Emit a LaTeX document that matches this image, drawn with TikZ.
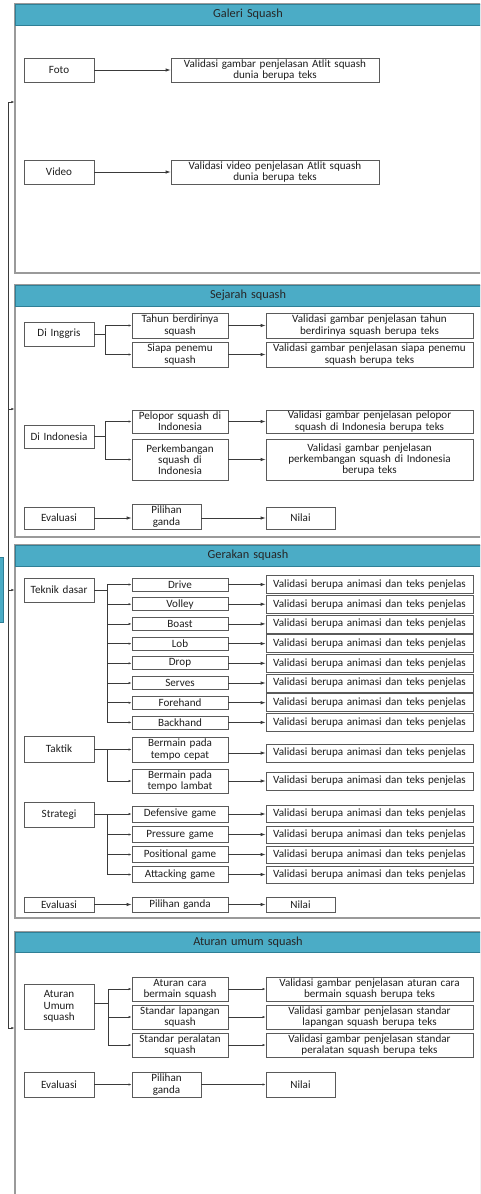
\documentclass[tikz,border=0pt]{standalone}
\usepackage{fontspec}
\setmainfont{Carlito}
\usetikzlibrary{arrows.meta}
\definecolor{headfill}{HTML}{4BACC6}
\definecolor{headdraw}{HTML}{2F7F96}
\definecolor{panelline}{HTML}{9A9A9A}
\definecolor{boxline}{HTML}{5A5A5A}
\definecolor{txt}{HTML}{1E1E1E}
\definecolor{lin}{HTML}{3A3A3A}
\tikzset{
  box/.style={draw=boxline,line width=0.7pt,fill=white,align=center,inner xsep=1pt,inner ysep=0pt,
    font=\fontsize{11.1}{11.3}\selectfont,text=txt},
  panel/.style={draw=panelline,line width=1.1pt,fill=white,inner sep=0pt},
  header/.style={draw=headdraw,line width=0.9pt,fill=headfill,inner sep=0pt,align=center,
    font=\fontsize{12.3}{13}\selectfont,text=black!85},
  side/.style={draw=headdraw,line width=0.6pt,fill=headfill,inner sep=0pt},
  arr/.style={draw=lin,line width=0.7pt,-{Latex[length=5pt,width=3.4pt]}},
  sarr/.style={draw=lin,line width=0.55pt,-{Latex[length=3pt,width=2.2pt]}},
  ln/.style={draw=lin,line width=0.6pt}
}
% \bx{style}{name}{x1}{y1}{x2}{y2}{text}
\newcommand{\bx}[7]{%
  \pgfmathsetmacro{\myW}{#5-#3}\pgfmathsetmacro{\myH}{#6-#4}%
  \pgfmathsetmacro{\myTW}{#5-#3-2}%
  \pgfmathsetmacro{\myCX}{(#3+#5)/2}\pgfmathsetmacro{\myCY}{(#4+#6)/2}%
  \node[#1,minimum width=\myW pt,minimum height=\myH pt,text width=\myTW pt] (#2) at (\myCX,\myCY) {#7};}
\newcommand{\pn}[6]{%
  \pgfmathsetmacro{\myW}{#5-#3}\pgfmathsetmacro{\myH}{#6-#4}%
  \pgfmathsetmacro{\myCX}{(#3+#5)/2}\pgfmathsetmacro{\myCY}{(#4+#6)/2}%
  \node[#1,minimum width=\myW pt,minimum height=\myH pt] (#2) at (\myCX,\myCY) {};}
\begin{document}
\begin{tikzpicture}[x=1pt,y=-1pt]
\clip (0,0) rectangle (480,1194);
\fill[white] (0,0) rectangle (480,1194);
% panels
\pn{panel}{gal}{15}{4}{481}{273}
\bx{header}{galh}{15}{4}{481}{25}{Galeri Squash}
\pn{panel}{sej}{15}{285}{481}{537}
\bx{header}{sejh}{15}{285}{481}{306}{Sejarah squash}
\pn{panel}{ger}{15}{545}{481}{918}
\bx{header}{gerh}{15}{545}{481}{566}{Gerakan squash}
\pn{panel}{atr}{15}{932}{481}{1210}
\bx{header}{atrh}{15}{932}{481}{952}{Aturan umum squash}
\pn{side}{sidebar}{-4}{557}{3}{622}
% left bracket
\coordinate (b1) at (8,102);
\coordinate (b2) at (8,409);
\coordinate (b3) at (8,590);
\coordinate (b4) at (8,1028);
\draw[ln] (b1) -- (b4);
\draw[sarr] (b1) -- (gal.west |- b1);
\draw[sarr] (b2) -- (sej.west |- b2);
\draw[sarr] (b3) -- (ger.west |- b3);
\draw[sarr] (b4) -- (atr.west |- b4);
% ---------------- Galeri
\bx{box}{foto}{24}{58}{94}{82}{Foto}
\bx{box}{vfoto}{171}{58}{379}{82}{Validasi gambar penjelasan Atlit squash\\dunia berupa teks}
\bx{box}{video}{24}{160}{94}{184}{Video}
\bx{box}{vvideo}{171}{160}{379}{184}{Validasi video penjelasan Atlit squash\\dunia berupa teks}
\draw[arr] (foto) -- (vfoto);
\draw[arr] (video) -- (vvideo);
% ---------------- Sejarah
\bx{box}{ing}{24}{322}{94}{346}{Di Inggris}
\bx{box}{tahun}{132}{313}{228}{338}{Tahun berdirinya\\squash}
\bx{box}{siapa}{132}{342}{228}{367}{Siapa penemu\\squash}
\bx{box}{vtahun}{266}{313}{473}{338}{Validasi gambar penjelasan tahun\\berdirinya squash berupa teks}
\bx{box}{vsiapa}{266}{342}{473}{367}{Validasi gambar penjelasan siapa penemu\\squash berupa teks}
\draw[sarr] (ing.east) -- ++(11,0) |- (tahun.west);
\draw[sarr] (ing.east) -- ++(11,0) |- (siapa.west);
\draw[arr] (tahun) -- (vtahun);
\draw[arr] (siapa) -- (vsiapa);
\bx{box}{indo}{24}{425}{94}{448}{Di Indonesia}
\bx{box}{pelopor}{132}{410}{228}{433}{Pelopor squash di\\Indonesia}
\bx{box}{perkem}{132}{439}{228}{480}{Perkembangan\\squash di\\Indonesia}
\bx{box}{vpelopor}{266}{410}{473}{433}{Validasi gambar penjelasan pelopor\\squash di Indonesia berupa teks}
\bx{box}{vperkem}{266}{439}{473}{480}{Validasi gambar penjelasan\\perkembangan squash di Indonesia\\berupa teks}
\draw[sarr] (indo.east) -- ++(11,0) |- (pelopor.west);
\draw[sarr] (indo.east) -- ++(11,0) |- (perkem.west);
\draw[arr] (pelopor) -- (vpelopor);
\draw[arr] (perkem) -- (vperkem);
\bx{box}{evala}{24}{507}{94}{529}{Evaluasi}
\bx{box}{pga}{132}{504}{201}{529}{Pilihan\\ganda}
\bx{box}{nilaia}{266}{507}{335}{529}{Nilai}
\draw[arr] (evala.east) -- (pga.west |- evala.east);
\draw[arr] (pga.east |- nilaia.west) -- (nilaia.west);
% ---------------- Gerakan
\bx{box}{tek}{24}{578}{94}{602}{Teknik dasar}
\foreach \nm/\lab/\c in {drive/Drive/584.5, volley/Volley/604.2, boast/Boast/623.9, lob/Lob/643.6,
  drop/Drop/663.3, serves/Serves/683, fore/Forehand/702.7, back/Backhand/722.4}{
  \pgfmathsetmacro{\ya}{\c-6.5}\pgfmathsetmacro{\yb}{\c+6.5}
  \pgfmathsetmacro{\yc}{\c-9}\pgfmathsetmacro{\yd}{\c+9}
  \bx{box}{\nm}{132}{\ya}{228}{\yb}{\lab}
  \bx{box}{v\nm}{266}{\yc}{473}{\yd}{Validasi berupa animasi dan teks penjelas}
  \draw[sarr] (tek.east) -- ++(13,0) |- (\nm.west);
  \draw[arr] (\nm) -- (v\nm);
}
\bx{box}{tak}{24}{736}{94}{762}{Taktik}
\bx{box}{cepat}{132}{737}{228}{762}{Bermain pada\\tempo cepat}
\bx{box}{lambat}{132}{769}{228}{793}{Bermain pada\\tempo lambat}
\bx{box}{vcepat}{266}{744}{473}{762}{Validasi berupa animasi dan teks penjelas}
\bx{box}{vlambat}{266}{772}{473}{790}{Validasi berupa animasi dan teks penjelas}
\draw[sarr] (tak.east) -- ++(13,0) |- (cepat.west);
\draw[sarr] (tak.east) -- ++(13,0) |- (lambat.west);
\draw[arr] (cepat.east |- vcepat.west) -- (vcepat.west);
\draw[arr] (lambat.east |- vlambat.west) -- (vlambat.west);
\bx{box}{strat}{24}{802}{94}{827}{Strategi}
\foreach \nm/\lab/\c in {def/Defensive game/814, pres/Pressure game/834.5, pos/Positional game/854.5, att/Attacking game/874.5}{
  \pgfmathsetmacro{\ya}{\c-8}\pgfmathsetmacro{\yb}{\c+8}
  \pgfmathsetmacro{\yc}{\c-8.5}\pgfmathsetmacro{\yd}{\c+8.5}
  \bx{box}{\nm}{132}{\ya}{228}{\yb}{\lab}
  \bx{box}{v\nm}{266}{\yc}{473}{\yd}{Validasi berupa animasi dan teks penjelas}
  \draw[sarr] (strat.east) -- ++(13,0) |- (\nm.west);
  \draw[arr] (\nm) -- (v\nm);
}
\bx{box}{evalb}{24}{897}{94}{912}{Evaluasi}
\bx{box}{pgb}{132}{897}{228}{912}{Pilihan ganda}
\bx{box}{nilaib}{266}{897}{335}{912}{Nilai}
\draw[arr] (evalb) -- (pgb);
\draw[arr] (pgb) -- (nilaib);
% ---------------- Aturan
\bx{box}{atu}{24}{984}{94}{1029}{Aturan\\Umum\\squash}
\bx{box}{cara}{132}{977}{228}{1001}{Aturan cara\\bermain squash}
\bx{box}{lap}{132}{1005}{228}{1029}{Standar lapangan\\squash}
\bx{box}{per}{132}{1033}{228}{1057}{Standar peralatan\\squash}
\bx{box}{vcara}{266}{977}{473}{1001}{Validasi gambar penjelasan aturan cara\\bermain squash berupa teks}
\bx{box}{vlap}{266}{1005}{473}{1029}{Validasi gambar penjelasan standar\\lapangan squash berupa teks}
\bx{box}{vper}{266}{1033}{473}{1057}{Validasi gambar penjelasan standar\\peralatan squash berupa teks}
\draw[sarr] (atu.east |- 0,1003) -- ++(14,0) |- (cara.west);
\draw[sarr] (atu.east |- 0,1003) -- ++(14,0) |- (lap.west);
\draw[sarr] (atu.east |- 0,1003) -- ++(14,0) |- (per.west);
\draw[sarr] (cara) -- (vcara);
\draw[sarr] (lap) -- (vlap);
\draw[sarr] (per) -- (vper);
\bx{box}{evalc}{24}{1072}{94}{1097}{Evaluasi}
\bx{box}{pgc}{132}{1072}{201}{1097}{Pilihan\\ganda}
\bx{box}{nilaic}{266}{1072}{335}{1097}{Nilai}
\draw[sarr] (evalc) -- (pgc);
\draw[sarr] (pgc.east |- nilaic.west) -- (nilaic.west);
\end{tikzpicture}
\end{document}
